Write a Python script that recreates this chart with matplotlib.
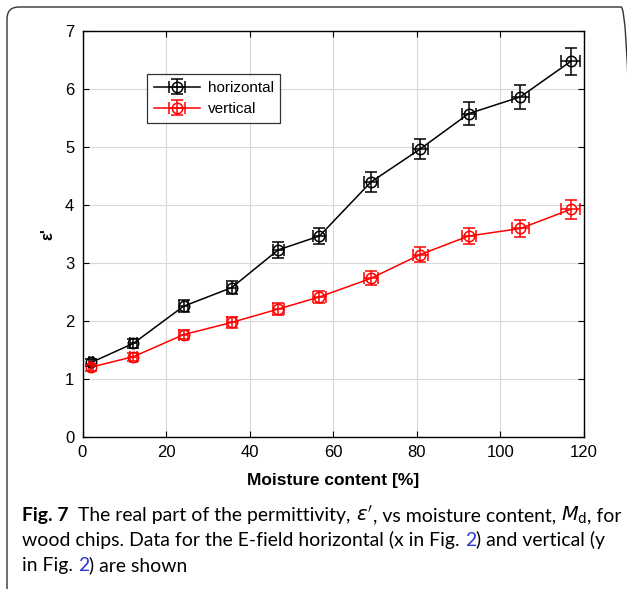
import matplotlib
matplotlib.use("Agg")
import matplotlib.pyplot as plt
from matplotlib.patches import FancyBboxPatch
from matplotlib.transforms import IdentityTransform

# ---- data ----
moisture = [2.1, 12.2, 24.2, 35.7, 46.8, 56.7, 69.0, 80.8, 92.4, 104.8, 116.8]
moisture_err = [0.5, 0.8, 1.0, 1.1, 1.3, 1.5, 1.7, 1.8, 1.7, 2.0, 2.3]
eps_horizontal = [1.28, 1.61, 2.25, 2.57, 3.22, 3.46, 4.39, 4.96, 5.57, 5.86, 6.47]
eps_horizontal_err = [0.06, 0.08, 0.10, 0.11, 0.14, 0.14, 0.17, 0.18, 0.20, 0.21, 0.23]
eps_vertical = [1.20, 1.38, 1.76, 1.97, 2.20, 2.41, 2.73, 3.14, 3.46, 3.59, 3.92]
eps_vertical_err = [0.06, 0.07, 0.08, 0.09, 0.10, 0.11, 0.12, 0.13, 0.14, 0.14, 0.16]
series_names = ["horizontal", "vertical"]
x_ticks = [0, 20, 40, 60, 80, 100, 120]
y_ticks = [0, 1, 2, 3, 4, 5, 6, 7]
x_label = "Moisture content [%]"
y_label = "\u03b5'"

W, H = 627, 589
fig = plt.figure(figsize=(W / 100, H / 100), dpi=100)
ax = fig.add_axes([82.5 / W, 1 - 436.7 / H, (584 - 82.5) / W, (436.7 - 30.7) / H])

common = dict(marker="o", markersize=7.5, markerfacecolor="none", capsize=4.5,
              elinewidth=1.1, linewidth=1.1, markeredgewidth=1.1, capthick=1.1)
ax.errorbar(moisture, eps_horizontal, yerr=eps_horizontal_err, xerr=moisture_err,
            color="black", label=series_names[0], **common)
ax.errorbar(moisture, eps_vertical, yerr=eps_vertical_err, xerr=moisture_err,
            color="red", label=series_names[1], **common)

ax.set_xlim(0, 120)
ax.set_ylim(0, 7)
ax.set_xticks(x_ticks)
ax.set_yticks(y_ticks)
ax.grid(True, color="#d9d9d9", linewidth=0.8)
ax.set_axisbelow(True)
ax.tick_params(direction="in", length=4, width=0.8, top=True, right=True,
               labelsize=12, pad=6)
for lab in ax.get_xticklabels() + ax.get_yticklabels():
    lab.set_fontfamily("Liberation Sans")
for s in ax.spines.values():
    s.set_linewidth(1.0)

ax.set_xlabel(x_label, fontsize=12.5, fontweight="bold", family="Liberation Sans", labelpad=9)
ax.set_ylabel(y_label, fontsize=12, fontweight="bold", family="Liberation Sans", labelpad=7)

leg = ax.legend(loc="upper left", bbox_to_anchor=(0.129, 0.893), frameon=True,
                fancybox=False, edgecolor="black", borderaxespad=0,
                prop={"family": "Liberation Sans", "size": 11},
                handlelength=3.0, borderpad=0.45, labelspacing=0.45, handletextpad=0.5)
leg.get_frame().set_linewidth(0.9)

# ---- caption ----
cap_font = "Lato"
blue = "#2b35d8"
lines = [
    [("Fig. 7", "bold", "black"), ("  The real part of the permittivity, ", "normal", "black"),
     (r"$\varepsilon'$", "normal", "black"), (", vs moisture content, ", "normal", "black"),
     (r"$M_\mathrm{d}$", "normal", "black"), (", for", "normal", "black")],
    [("wood chips. Data for the E-field horizontal (x in Fig. ", "normal", "black"),
     ("2", "normal", blue), (") and vertical (y", "normal", "black")],
    [("in Fig. ", "normal", "black"), ("2", "normal", blue), (") are shown", "normal", "black")],
]
baselines = [521, 546, 571]
x_start = 22
target_w = 620 - 22

renderer = fig.canvas.get_renderer()


def place(line, y, fs, draw=True):
    x = x_start
    texts = []
    for s, wgt, col in line:
        t = fig.text(x / W, 1 - y / H, s, fontsize=fs, fontweight=wgt, color=col,
                     family=cap_font, va="baseline", ha="left")
        bb = t.get_window_extent(renderer)
        x += bb.width
        texts.append(t)
    if not draw:
        for t in texts:
            t.remove()
    return x - x_start

fs0 = 12.0
w0 = place(lines[0], baselines[0], fs0, draw=False)
fs = fs0 * target_w / w0
for ln, yb in zip(lines, baselines):
    place(ln, yb, fs)

# rounded border (display coords), right and bottom edges run off the canvas
border = FancyBboxPatch((7, -10), 626, 592, boxstyle="round,pad=0,rounding_size=12",
                        transform=IdentityTransform(), fill=False, edgecolor="#333333",
                        linewidth=1.0)
fig.patches.append(border)

fig.savefig("out.png", dpi=100)
